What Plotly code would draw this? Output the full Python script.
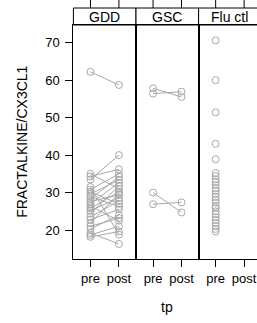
import plotly.graph_objects as go

# ---------------- data ----------------
panels = ["GDD", "GSC", "Flu ctl"]
tp_levels = ["pre", "post"]

gdd_pre = [62.2, 33.5, 35.0, 34.3, 30.8, 30.2, 29.6, 29.0, 28.3, 27.6, 27.0, 26.4,
           25.8, 25.2, 24.4, 23.5, 22.8, 21.8, 21.0, 20.3, 19.2, 18.7, 18.2, 31.5]
gdd_post = [58.7, 40.0, 31.0, 36.2, 35.0, 27.0, 33.4, 26.2, 34.2, 29.4, 32.6, 22.5,
            30.2, 28.6, 31.8, 27.8, 25.5, 29.8, 23.2, 24.0, 16.3, 21.0, 19.6, 18.8]

gsc_pre = [57.8, 56.4, 30.0, 26.9]
gsc_post = [55.5, 56.9, 24.7, 27.4]

flu_pre = [70.6, 60.0, 51.4, 43.0, 38.9, 35.2, 34.4, 33.5, 32.9, 32.0, 31.1, 30.5,
           29.6, 28.8, 28.1, 27.3, 26.4, 25.9, 25.0, 24.2, 23.4, 22.7, 21.9, 21.0,
           20.3, 19.6]

y_ticks = [20, 30, 40, 50, 60, 70]
y_title = "FRACTALKINE/CX3CL1"
x_title = "tp"

# ---------------- geometry ----------------
W, H = 257, 323
FONT = "Liberation Sans, Arial, sans-serif"
GREY = "#A8A8A8"
pl, pw = 73.4, 62.6
pan_top, pan_bot, strip_top = 25.0, 259.3, 8.0
unit = pw / 2.2

def px(x):
    return x / W

def py(y):
    return 1 - y / H

lefts = [pl + i * pw for i in range(3)]
rights = [min(l + pw, W) for l in lefts]

fig = go.Figure()

def paired(pre, post):
    xs, ys = [], []
    for a, b in zip(pre, post):
        xs += [tp_levels.index("pre") + 1, tp_levels.index("post") + 1, None]
        ys += [a, b, None]
    return xs, ys

series = [(paired(gdd_pre, gdd_post), "lines+markers"),
          (paired(gsc_pre, gsc_post), "lines+markers"),
          (([tp_levels.index("pre") + 1] * len(flu_pre), flu_pre), "markers")]

for i, ((xs, ys), mode) in enumerate(series):
    ax = "" if i == 0 else str(i + 1)
    fig.add_trace(go.Scatter(
        x=xs, y=ys, xaxis="x" + ax, yaxis="y" + ax,
        mode=mode, connectgaps=False,
        line=dict(color=GREY, width=1),
        marker=dict(symbol="circle-open", size=7, color=GREY, line=dict(width=1, color=GREY)),
        showlegend=False, hoverinfo="skip", cliponaxis=False))

shapes, annotations = [], []
for i in range(3):
    ax = "" if i == 0 else str(i + 1)
    l, r = lefts[i], rights[i]
    xr_end = 0.4 + (r - l) / unit
    fig.layout["xaxis" + ax] = dict(
        domain=[px(l), px(r)], range=[0.4, xr_end], anchor="y" + ax,
        tickvals=[1, 2], ticktext=tp_levels, ticks="outside", ticklen=7,
        tickwidth=1, tickcolor="black", showline=True, mirror=True,
        linecolor="black", linewidth=1, showgrid=False, zeroline=False,
        tickfont=dict(family=FONT, size=13, color="black"), fixedrange=True)
    fig.layout["yaxis" + ax] = dict(
        domain=[py(pan_bot), py(pan_top)], range=[12.2, 74.7], anchor="x" + ax,
        showline=True, mirror=(i < 2), linecolor="black", linewidth=1,
        showgrid=False, zeroline=False,
        tickvals=y_ticks if i == 0 else [], ticks="outside" if i == 0 else "",
        ticklen=7, tickwidth=1, tickcolor="black",
        showticklabels=(i == 0), ticklabelstandoff=3,
        tickfont=dict(family=FONT, size=13, color="black"), fixedrange=True)
    # strip
    sr = l + pw
    shapes.append(dict(type="rect", xref="paper", yref="paper",
                       x0=px(l), x1=px(sr), y0=py(pan_top), y1=py(strip_top),
                       line=dict(color="black", width=1), fillcolor="white", layer="below"))
    annotations.append(dict(text=panels[i], xref="paper", yref="paper",
                            x=px((l + sr) / 2), y=py((strip_top + pan_top) / 2),
                            showarrow=False, xanchor="center", yanchor="middle",
                            font=dict(family=FONT, size=14, color="black")))
    # top ticks above strip
    for t in [1, 2]:
        shapes.append(dict(type="line", xref="x" + ax, yref="paper",
                           x0=t, x1=t, y0=py(strip_top), y1=py(0),
                           line=dict(color="black", width=1)))

annotations.append(dict(text=y_title, xref="paper", yref="paper",
                        x=px(21.7), y=py((pan_top + pan_bot) / 2), textangle=-90,
                        showarrow=False, xanchor="center", yanchor="middle",
                        font=dict(family=FONT, size=14, color="black")))
annotations.append(dict(text=x_title, xref="paper", yref="paper",
                        x=px(pl + 1.5 * pw), y=py(307), showarrow=False,
                        xanchor="center", yanchor="middle",
                        font=dict(family=FONT, size=14, color="black")))

fig.update_layout(width=W, height=H, margin=dict(l=0, r=0, t=0, b=0),
                  paper_bgcolor="white", plot_bgcolor="white",
                  shapes=shapes, annotations=annotations,
                  font=dict(family=FONT, color="black"))

fig.write_html("out.html", config={"displayModeBar": False},
               post_script="document.body.style.margin='0';document.body.style.overflow='hidden';")
